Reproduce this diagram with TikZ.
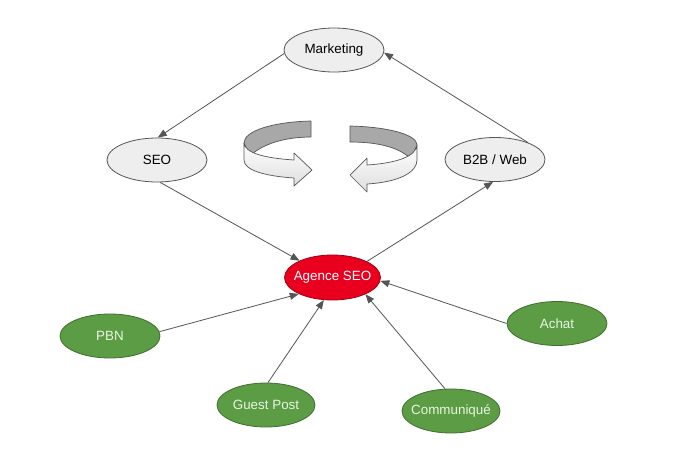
\documentclass[tikz,border=0pt]{standalone}
\usepackage{fontspec}
\setmainfont{Liberation Sans}
\usetikzlibrary{shapes.geometric,arrows.meta}
\definecolor{edgegray}{HTML}{555555}
\definecolor{nodegray}{HTML}{EEEEEE}
\definecolor{redfill}{HTML}{E8001E}
\definecolor{redline}{HTML}{A00010}
\definecolor{greenfill}{HTML}{5C9C45}
\definecolor{greenline}{HTML}{3F6E2E}
\definecolor{greentext}{HTML}{E8F6E0}
\definecolor{bandback}{HTML}{A8A8A8}
\definecolor{bandfront}{HTML}{EFEFEF}
\tikzset{
  oval/.style={ellipse, minimum width=100pt, minimum height=44pt, inner xsep=-10pt, inner ysep=0pt,
    line width=0.8pt, font=\fontsize{13.4}{15}\selectfont},
  grayoval/.style={oval, draw=edgegray, fill=nodegray, text=black},
  redoval/.style={oval, draw=redline, fill=redfill, text=white},
  greenoval/.style={oval, draw=greenline, fill=greenfill, text=greentext},
  conn/.style={draw=edgegray, line width=0.8pt, -{Triangle[length=9pt,width=7pt]}},
  bandb/.style={fill=bandback, draw=edgegray, line width=0.7pt, line join=round},
  bandf/.style={top color=white, bottom color=bandfront!85!gray, draw=edgegray, line width=0.7pt, line join=round}
}
\begin{document}
\begin{tikzpicture}[x=1pt,y=-1pt]
\path[use as bounding box, fill=white] (0,0) rectangle (691,450);

\node[grayoval] (mkt) at (334,50) {Marketing};
\node[grayoval] (seo) at (157,160) {SEO};
\node[grayoval] (b2b) at (495,159.5) {B2B / Web};
\node[redoval, minimum width=96pt, minimum height=45pt] (agence) at (332.5,277.5) {Agence SEO};
\node[greenoval] (pbn) at (110,336) {PBN};
\node[greenoval, minimum width=98pt] (guest) at (266,405) {Guest Post};
\node[greenoval, minimum width=98pt] (comm) at (451,411) {Communiqué};
\node[greenoval] (achat) at (557,323.5) {Achat};

\draw[conn] (mkt.184) -- (seo.88);
\draw[conn] (b2b.27) -- (mkt.357);
\draw[conn] (seo.278) -- (agence.153);
\draw[conn] (agence.25) -- (b2b.265);
\draw[conn] (pbn.5) -- (agence.206);
\draw[conn] (guest.85) -- (agence.249);
\draw[conn] (comm.105) -- (agence.333);
\draw[conn] (achat.180) -- (agence.356);

% left rotating arrow
\path[bandb] (311,121) .. controls (272,122) and (244,131) .. (244,143)
  -- (250,156) .. controls (262,144) and (285,137) .. (311,137) -- cycle;
\path[bandf] (244,143) .. controls (245,153) and (264,158) .. (294,160)
  -- (294,153) -- (312,170) -- (294,186) -- (294,178)
  .. controls (264,176) and (244,170) .. (244,160) -- cycle;

% right rotating arrow
\path[bandb] (350,126) .. controls (390,127) and (417,135) .. (417,145)
  -- (411,159) .. controls (400,148) and (380,142) .. (350,142) -- cycle;
\path[bandf] (417,145) .. controls (416,156) and (398,163) .. (367,165)
  -- (367,158) -- (350,175) -- (367,192) -- (367,184)
  .. controls (400,182) and (417,172) .. (417,160) -- cycle;
\end{tikzpicture}
\end{document}
